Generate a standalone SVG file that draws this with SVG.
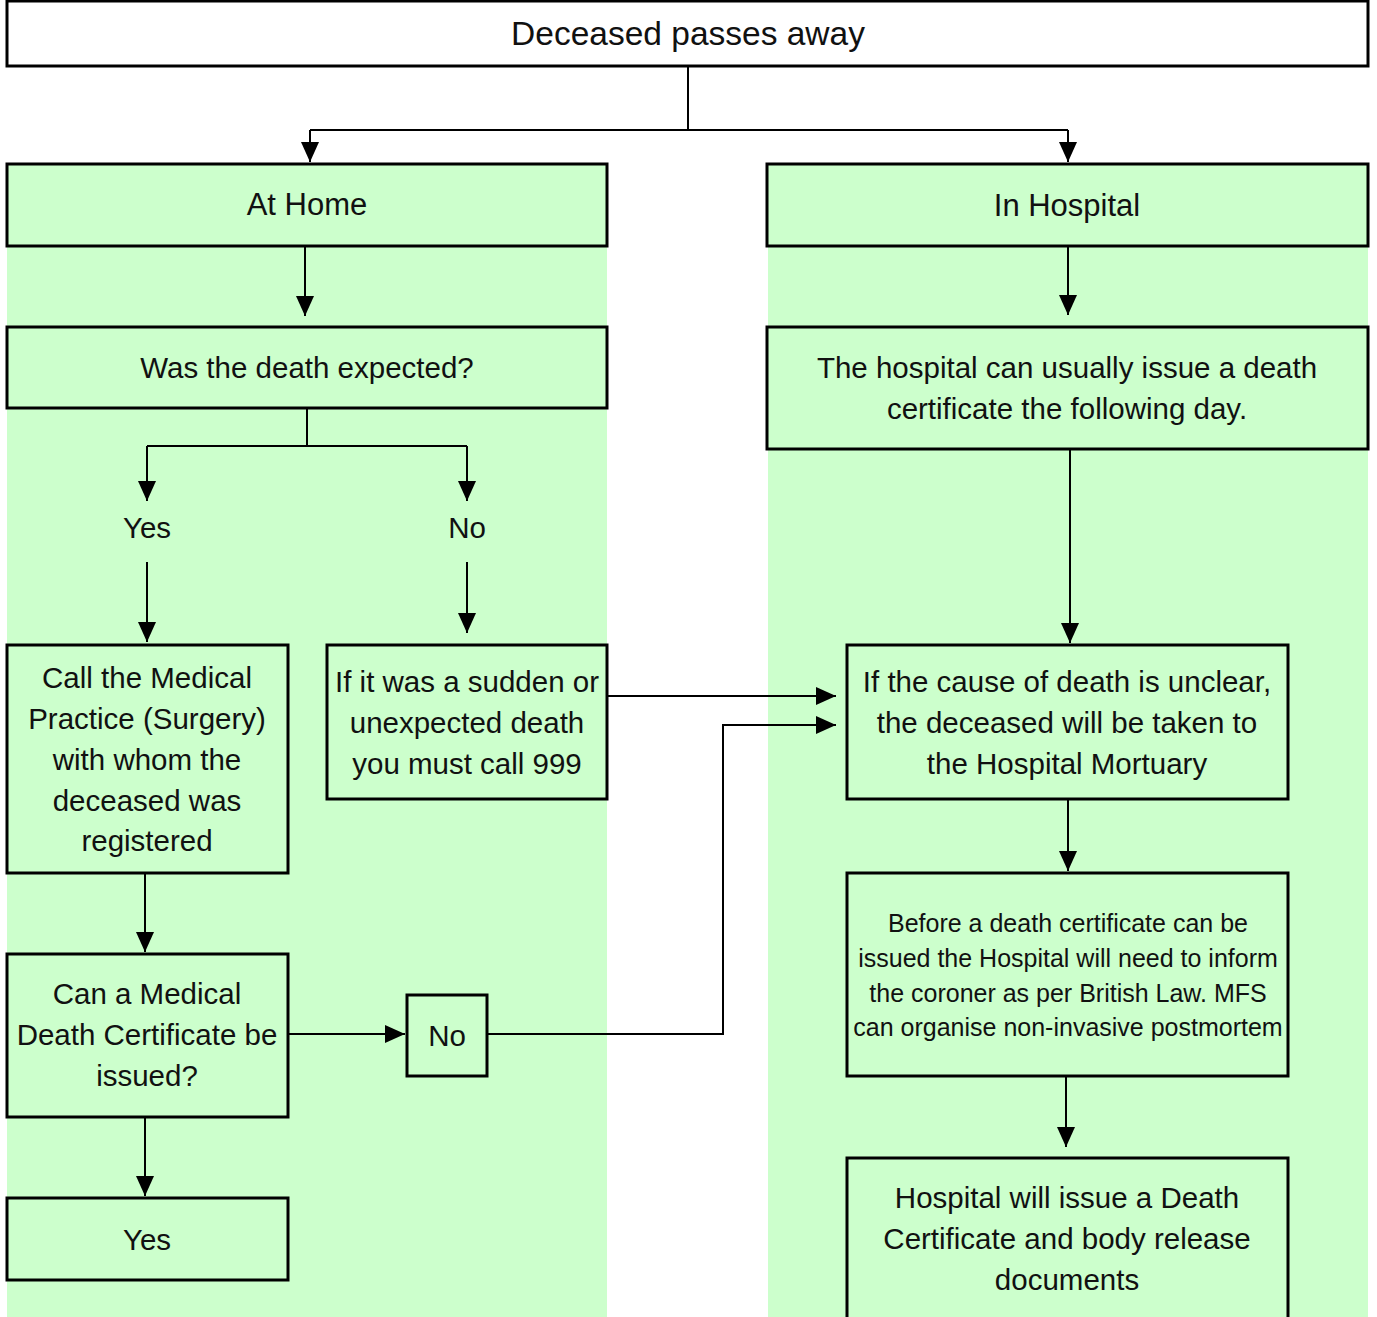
<svg xmlns="http://www.w3.org/2000/svg" width="1377" height="1317" viewBox="0 0 1377 1317">
<style>
.box{fill:#CCFFCC;stroke:#000;stroke-width:3}
.top{fill:#fff;stroke:#000;stroke-width:3}
.t{font-family:"Liberation Sans",Arial,sans-serif;font-size:29.5px;fill:#111;text-anchor:middle}
.s{font-family:"Liberation Sans",Arial,sans-serif;font-size:25px;fill:#111;text-anchor:middle}
.c{fill:none;stroke:#000;stroke-width:2}
</style>
<defs>
<marker id="ah" markerUnits="userSpaceOnUse" markerWidth="20" markerHeight="20" viewBox="0 0 20 20" refX="20" refY="10" orient="auto">
<path d="M0,1 L20,10 L0,19 Z" fill="#000"/>
</marker>
</defs>
<rect x="0" y="0" width="1377" height="1317" fill="#fff"/>
<rect x="7" y="246" width="600" height="1071" fill="#CCFFCC"/>
<rect x="768" y="246" width="600" height="1071" fill="#CCFFCC"/>

<g id="connectors">
<path class="c" d="M688,66 V130"/>
<path class="c" d="M310,130 H1068"/>
<path class="c" d="M310,130 V162" marker-end="url(#ah)"/>
<path class="c" d="M1068,130 V162" marker-end="url(#ah)"/>
<path class="c" d="M305,246 V316" marker-end="url(#ah)"/>
<path class="c" d="M1068,246 V315" marker-end="url(#ah)"/>
<path class="c" d="M307,408 V446 M147,446 H467"/>
<path class="c" d="M147,446 V501" marker-end="url(#ah)"/>
<path class="c" d="M467,446 V501" marker-end="url(#ah)"/>
<path class="c" d="M147,562 V642" marker-end="url(#ah)"/>
<path class="c" d="M467,562 V633" marker-end="url(#ah)"/>
<path class="c" d="M607,696 H836" marker-end="url(#ah)"/>
<path class="c" d="M487,1034 H723 V725 H836" marker-end="url(#ah)"/>
<path class="c" d="M1070,449 V643" marker-end="url(#ah)"/>
<path class="c" d="M1068,799 V871" marker-end="url(#ah)"/>
<path class="c" d="M1066,1076 V1147" marker-end="url(#ah)"/>
<path class="c" d="M145,873 V952" marker-end="url(#ah)"/>
<path class="c" d="M288,1034 H405" marker-end="url(#ah)"/>
<path class="c" d="M145,1117 V1196" marker-end="url(#ah)"/>
</g>

<g id="n-top">
<rect class="top" x="7" y="1" width="1361" height="65"/>
<text class="t" x="688" y="45" style="font-size:33.5px">Deceased passes away</text>
</g>
<g id="n-home">
<rect class="box" x="7" y="164" width="600" height="82"/>
<text class="t" x="307" y="215" style="font-size:31px">At Home</text>
</g>
<g id="n-hosp">
<rect class="box" x="767" y="164" width="601" height="82"/>
<text class="t" x="1067" y="216" style="font-size:31px">In Hospital</text>
</g>
<g id="n-expected">
<rect class="box" x="7" y="327" width="600" height="81"/>
<text class="t" x="307" y="378">Was the death expected?</text>
</g>
<g id="n-hosp-issue">
<rect class="box" x="767" y="327" width="601" height="122"/>
<text class="t" x="1067" y="378">The hospital can usually issue a death</text>
<text class="t" x="1067" y="419">certificate the following day.</text>
</g>
<g id="n-yes1">
<text class="t" x="147" y="538">Yes</text>
</g>
<g id="n-no1">
<text class="t" x="467" y="538">No</text>
</g>
<g id="n-call">
<rect class="box" x="7" y="645" width="281" height="228"/>
<text class="t" x="147" y="688">Call the Medical</text>
<text class="t" x="147" y="729">Practice (Surgery)</text>
<text class="t" x="147" y="770">with whom the</text>
<text class="t" x="147" y="811">deceased was</text>
<text class="t" x="147" y="851">registered</text>
</g>
<g id="n-sudden">
<rect class="box" x="327" y="645" width="280" height="154"/>
<text class="t" x="467" y="692">If it was a sudden or</text>
<text class="t" x="467" y="733">unexpected death</text>
<text class="t" x="467" y="774">you must call 999</text>
</g>
<g id="n-unclear">
<rect class="box" x="847" y="645" width="441" height="154"/>
<text class="t" x="1067" y="692">If the cause of death is unclear,</text>
<text class="t" x="1067" y="733">the deceased will be taken to</text>
<text class="t" x="1067" y="774">the Hospital Mortuary</text>
</g>
<g id="n-before">
<rect class="box" x="847" y="873" width="441" height="203"/>
<text class="s" x="1068" y="932">Before a death certificate can be</text>
<text class="s" x="1068" y="967">issued the Hospital will need to inform</text>
<text class="s" x="1068" y="1002">the coroner as per British Law. MFS</text>
<text class="s" x="1068" y="1036">can organise non-invasive postmortem</text>
</g>
<g id="n-can">
<rect class="box" x="7" y="954" width="281" height="163"/>
<text class="t" x="147" y="1004">Can a Medical</text>
<text class="t" x="147" y="1045">Death Certificate be</text>
<text class="t" x="147" y="1086">issued?</text>
</g>
<g id="n-no2">
<rect class="box" x="407" y="995" width="80" height="81"/>
<text class="t" x="447" y="1046">No</text>
</g>
<g id="n-yes2">
<rect class="box" x="7" y="1198" width="281" height="82"/>
<text class="t" x="147" y="1250">Yes</text>
</g>
<g id="n-release">
<path class="box" d="M847,1330 V1158 H1288 V1330"/>
<text class="t" x="1067" y="1208">Hospital will issue a Death</text>
<text class="t" x="1067" y="1249">Certificate and body release</text>
<text class="t" x="1067" y="1290">documents</text>
</g>
</svg>
